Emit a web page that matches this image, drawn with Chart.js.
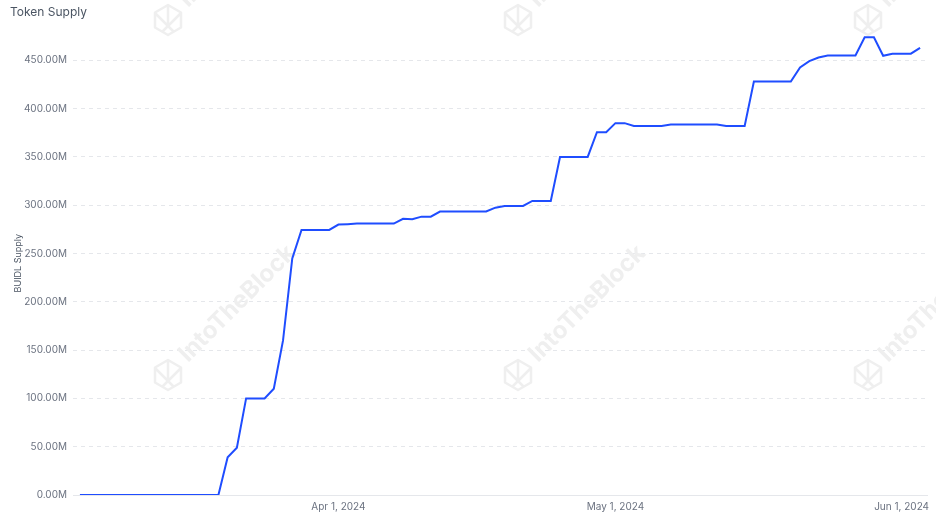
<!DOCTYPE html>
<html>
<head>
<meta charset="utf-8">
<title>Token Supply</title>
<script src="https://cdn.jsdelivr.net/npm/chart.js@4.4.1/dist/chart.umd.min.js"></script>
<style>
  html, body { margin: 0; padding: 0; background: #fff; }
  #wrap { width: 936px; height: 516px; position: relative; }
</style>
</head>
<body>
<div id="wrap"><canvas id="supplyChart"></canvas></div>
<script>
// ── Data ────────────────────────────────────────────────
// daily BUIDL supply, in millions, starting on this date
const startDate = "2024-03-04";
const supplyM = [
  0, 0, 0, 0, 0, 0, 0, 0, 0, 0,
  0, 0, 0, 0, 0, 0, 39, 49, 100, 100,
  100, 110, 160, 245, 274.5, 274.5, 274.5, 274.5, 280, 280.4,
  281, 281, 281, 281, 281, 286, 285.5, 288.2, 288.2, 293.5,
  293.5, 293.5, 293.5, 293.5, 293.5, 297.5, 299.3, 299.3, 299.3, 304.5,
  304.5, 304.5, 350, 350, 350, 350, 375.6, 375.6, 385, 385,
  382, 382, 382, 382, 383.5, 383.5, 383.5, 383.5, 383.5, 383.5,
  382, 382, 382, 428, 428, 428, 428, 428, 442.7, 449.2,
  453, 455, 455, 455, 455, 474, 474, 454.8, 456.9, 456.9,
  456.9, 463
];
const yTickStepM = 50;
const yMaxM = 480;

const monthNames = ["Jan", "Feb", "Mar", "Apr", "May", "Jun", "Jul", "Aug", "Sep", "Oct", "Nov", "Dec"];

(function () {
  "use strict";

  const start = new Date(startDate + "T00:00:00");
  const dates = supplyM.map((_, i) => {
    const d = new Date(start);
    d.setDate(start.getDate() + i);
    return d;
  });
  const points = supplyM.map((v, i) => ({ x: i, y: v }));

  // ── Watermark (drawn under the line) ──────────────────
  const watermark = {
    id: "watermark",
    beforeDatasetsDraw(chart) {
      const ctx = chart.ctx;
      const spots = [
        [168, 20], [518, 20], [868, 20],
        [168, 375], [518, 375], [868, 375]
      ];
      ctx.save();
      ctx.strokeStyle = "#efefef";
      ctx.fillStyle = "#efefef";
      ctx.lineWidth = 2.5;
      ctx.lineJoin = "round";
      spots.forEach(([cx, cy]) => {
        // logo: rough hexagon with inner facets
        ctx.beginPath();
        for (let k = 0; k < 6; k++) {
          const a = Math.PI / 6 + (k * Math.PI) / 3;
          const px = cx + 15 * Math.cos(a);
          const py = cy + 15 * Math.sin(a);
          if (k === 0) ctx.moveTo(px, py);
          else ctx.lineTo(px, py);
        }
        ctx.closePath();
        ctx.moveTo(cx - 13, cy - 7);
        ctx.lineTo(cx + 6, cy + 12);
        ctx.moveTo(cx + 13, cy - 7);
        ctx.lineTo(cx - 6, cy + 12);
        ctx.moveTo(cx, cy - 15);
        ctx.lineTo(cx, cy + 4);
        ctx.stroke();
        // name
        ctx.save();
        ctx.translate(cx + 20, cy - 12);
        ctx.rotate(-Math.PI / 4);
        ctx.font = "bold 24px Inter, sans-serif";
        ctx.textBaseline = "alphabetic";
        ctx.fillText("IntoTheBlock", 0, 0);
        ctx.restore();
      });
      ctx.restore();
    }
  };

  new Chart(document.getElementById("supplyChart"), {
    type: "line",
    data: {
      datasets: [
        {
          label: "BUIDL Supply",
          data: points,
          borderColor: "#1f4dff",
          borderWidth: 2,
          pointRadius: 0,
          pointHoverRadius: 0,
          tension: 0,
          fill: false
        }
      ]
    },
    options: {
      responsive: true,
      maintainAspectRatio: false,
      animation: false,
      layout: { padding: { left: 10, right: 9, top: 0, bottom: 0 } },
      plugins: {
        legend: { display: false },
        tooltip: { enabled: false },
        title: {
          display: true,
          text: "Token Supply",
          align: "start",
          color: "#4b5563",
          font: { family: "Inter, sans-serif", size: 12, weight: "normal" },
          padding: { top: 5, bottom: 12 }
        }
      },
      scales: {
        x: {
          type: "linear",
          min: -0.75,
          max: supplyM.length - 0.25,
          grid: { display: false, drawTicks: false },
          border: { display: true, color: "#e5e7eb" },
          afterFit(axis) {
            axis.height = 21;
          },
          afterBuildTicks(axis) {
            axis.ticks = dates
              .map((d, i) => (d.getDate() === 1 ? { value: i } : null))
              .filter(Boolean);
          },
          ticks: {
            color: "#6b7280",
            font: { family: "Inter, sans-serif", size: 10 },
            maxRotation: 0,
            autoSkip: false,
            padding: 6,
            callback(value) {
              const d = dates[value];
              return d ? monthNames[d.getMonth()] + " " + d.getDate() + ", " + d.getFullYear() : "";
            }
          }
        },
        y: {
          min: 0,
          max: yMaxM,
          grid: { color: "#e5e7eb", drawTicks: false },
          border: { display: false, dash: [4, 4] },
          afterFit(axis) {
            axis.width = 63;
          },
          afterBuildTicks(axis) {
            axis.ticks = axis.ticks.filter((t) => t.value % yTickStepM === 0);
          },
          title: {
            display: true,
            text: "BUIDL Supply",
            color: "#4b5563",
            font: { family: "Inter, sans-serif", size: 9 },
            padding: { top: 3, bottom: 0 }
          },
          ticks: {
            stepSize: yTickStepM,
            color: "#6b7280",
            font: { family: "Inter, sans-serif", size: 10 },
            padding: 6,
            callback: (v) => v.toFixed(2) + "M"
          }
        }
      }
    },
    plugins: [watermark]
  });
})();
</script>
</body>
</html>
